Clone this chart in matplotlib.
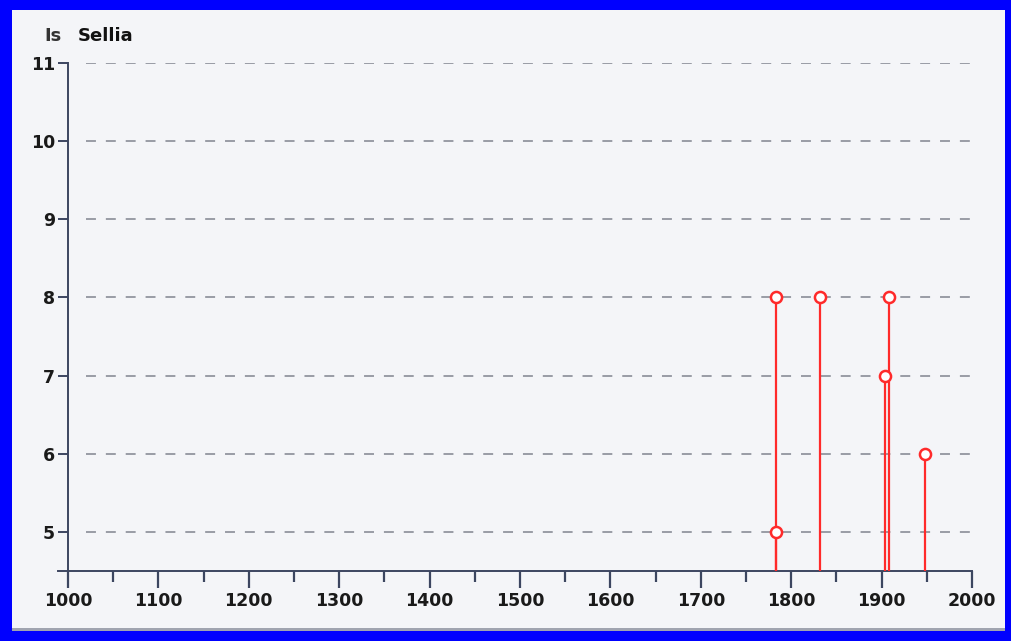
import matplotlib
matplotlib.use("Agg")
import matplotlib.pyplot as plt
from matplotlib.patches import Rectangle
from matplotlib.ticker import MultipleLocator

years = [1783, 1783, 1832, 1904, 1908, 1948]
values = [8, 5, 8, 7, 8, 6]
x_ticks = list(range(1000, 2001, 100))
y_ticks = list(range(5, 12))

W, H = 1011, 641
PX = 72 / 100  # points per pixel
fig = plt.figure(figsize=(W / 100, H / 100), dpi=100)
fig.patch.set_facecolor("#0000ff")

bg = fig.add_axes([0, 0, 1, 1], zorder=-5)
bg.set_xlim(0, W)
bg.set_ylim(H, 0)
bg.axis("off")
bg.add_patch(Rectangle((12, 10), 1005 - 12, 620, facecolor="#f4f5f8", edgecolor="none"))
bg.add_patch(Rectangle((12, 628), 1005 - 12, 3, facecolor="#a0a4b0", edgecolor="none"))

ax = fig.add_axes([68 / W, 1 - 571 / H, (972 - 68) / W, (571 - 63) / H], zorder=1)
ax.set_facecolor("none")
ax.set_xlim(1000, 2000)
ax.set_ylim(4.5, 11)

axis_col = "#3c4660"
for s in ["top", "right"]:
    ax.spines[s].set_visible(False)
ax.spines["left"].set_color(axis_col)
ax.spines["bottom"].set_color(axis_col)
ax.spines["left"].set_linewidth(1.4)
ax.spines["bottom"].set_linewidth(1.4)
ax.spines["bottom"].set_bounds(1000 - 10 * 1000 / 904, 2000)

for y in y_ticks:
    ax.axhline(y, color="#80848f", linestyle=(0, (6.5, 6.5)), linewidth=1.1, zorder=1,
               xmin=0.02)

ax.set_xticks(x_ticks)
ax.xaxis.set_minor_locator(MultipleLocator(50))
ax.set_yticks(y_ticks)
ax.tick_params(axis="x", which="major", length=17 * PX, width=1.6, color=axis_col,
               pad=4 * PX, labelsize=12.5)
ax.tick_params(axis="x", which="minor", length=11 * PX, width=1.6, color=axis_col)
ax.tick_params(axis="y", length=10 * PX, width=1.4, color=axis_col, pad=3 * PX,
               labelsize=12.5)
for lbl in ax.get_xticklabels() + ax.get_yticklabels():
    lbl.set_fontweight("bold")
    lbl.set_color("#1a1a1a")

ax.vlines(years, 4.5, values, color="#ff2a2a", linewidth=1.6, zorder=3)
ax.plot(years, values, linestyle="none", marker="o", markersize=8,
        markerfacecolor="white", markeredgecolor="#ff2a2a", markeredgewidth=1.8,
        zorder=4, clip_on=False)

fig.text(44 / W, 1 - 36 / H, "Is", fontsize=13, fontweight="bold", color="#333333",
         va="center", ha="left")
fig.text(78 / W, 1 - 36 / H, "Sellia", fontsize=13, fontweight="bold", color="#111111",
         va="center", ha="left")

fig.savefig("out.png", dpi=100, facecolor=fig.get_facecolor())
